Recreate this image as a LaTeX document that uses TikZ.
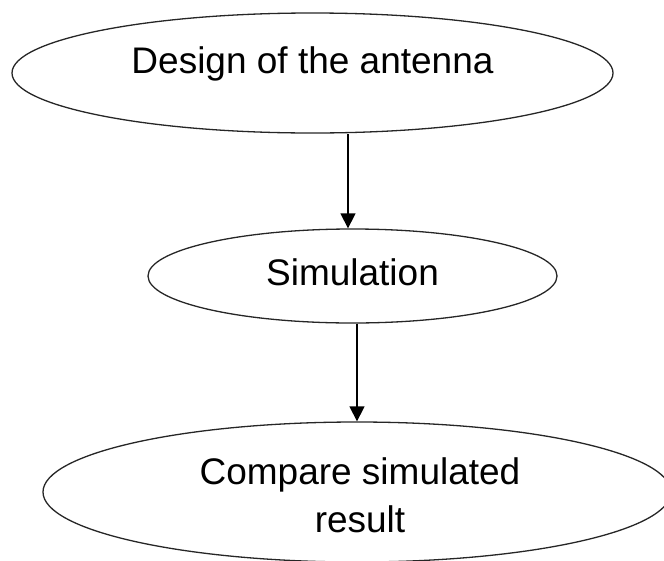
\documentclass[tikz,border=0pt]{standalone}
\usepackage{fontspec}
\setmainfont{Liberation Sans}
\usetikzlibrary{shapes.geometric,arrows.meta}
\begin{document}
\begin{tikzpicture}[x=1pt,y=-1pt,
  oval/.style={draw=black!85,line width=1.3pt,ellipse,inner sep=0pt},
  lbl/.style={font=\fontsize{37}{44}\selectfont,anchor=base,inner sep=0pt},
  flow/.style={draw=black,line width=1.3pt,-{Triangle[width=15pt,length=15pt]}}]
\useasboundingbox (0,0) rectangle (664,560);
\node[oval,minimum width=601pt,minimum height=120pt] (e1) at (312.5,73) {};
\node[oval,minimum width=409pt,minimum height=94pt] (e2) at (352.5,276) {};
\node[oval,minimum width=628pt,minimum height=140pt] (e3) at (357,492) {};
\node[lbl] (t1) at (312.5,73) {Design of the antenna};
\node[lbl] (t2) at (352.5,285) {Simulation};
\node[lbl] (t3a) at (360,484) {Compare simulated};
\node[lbl] (t3b) at (360,532) {result};
\draw[flow] ([xshift=35.5pt]e1.south) -- ([xshift=-4.5pt]e2.north);
\draw[flow] ([xshift=4.5pt]e2.south) -- (e3.north);
\end{tikzpicture}
\end{document}
